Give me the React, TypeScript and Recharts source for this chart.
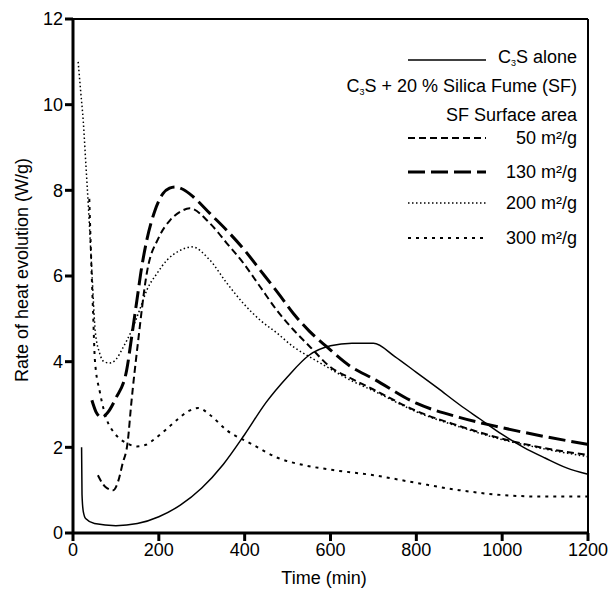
import React from 'react';
import { LineChart, Line, XAxis, YAxis, ReferenceLine } from 'recharts';

// time (min) / rate of heat evolution (W/g)
const c3sTime = [20, 21, 24, 30, 50, 100, 150, 200, 250, 300, 350, 400, 450, 500, 550, 600, 650, 700, 750, 800, 850, 900, 950, 1000, 1050, 1100, 1150, 1200];
const c3sRate = [2.0, 0.9, 0.5, 0.33, 0.22, 0.17, 0.22, 0.38, 0.65, 1.05, 1.6, 2.3, 3.05, 3.65, 4.15, 4.37, 4.43, 4.43, 4.12, 3.75, 3.38, 3.0, 2.65, 2.3, 2.0, 1.75, 1.52, 1.37];

const sf50Time = [58, 75, 94, 105, 115, 128, 135, 152, 172, 200, 226, 250, 272, 319, 358, 397, 436, 475, 513, 552, 599, 650, 700, 800, 900, 1000, 1100, 1200];
const sf50Rate = [1.35, 1.08, 1.0, 1.2, 1.6, 2.17, 2.94, 4.5, 6.07, 6.9, 7.3, 7.5, 7.58, 7.23, 6.77, 6.3, 5.75, 5.2, 4.75, 4.35, 3.88, 3.6, 3.35, 2.85, 2.5, 2.2, 1.98, 1.82];

const sf130Time = [44, 55, 67, 80, 100, 125, 137, 149, 160, 172, 190, 210, 225, 238, 257, 280, 320, 358, 400, 436, 478, 513, 550, 591, 645, 700, 800, 900, 995, 1100, 1200];
const sf130Rate = [3.1, 2.8, 2.7, 2.8, 3.15, 3.8, 4.6, 5.44, 6.2, 6.84, 7.5, 7.93, 8.05, 8.08, 8.02, 7.85, 7.45, 7.07, 6.6, 6.14, 5.6, 5.13, 4.72, 4.35, 3.9, 3.6, 3.03, 2.7, 2.47, 2.25, 2.07];

const sf200Time = [12, 18, 24, 30, 36, 44, 52, 62, 72, 86, 100, 115, 137, 155, 172, 195, 219, 250, 277, 319, 358, 397, 436, 475, 513, 552, 591, 650, 700, 800, 900, 1000, 1100, 1200];
const sf200Rate = [11.0, 10.3, 9.6, 8.6, 7.6, 6.1, 4.7, 4.2, 4.0, 3.97, 4.05, 4.3, 4.74, 5.2, 5.67, 6.05, 6.37, 6.6, 6.68, 6.37, 5.84, 5.36, 4.97, 4.67, 4.35, 4.11, 3.88, 3.55, 3.32, 2.83, 2.48, 2.18, 1.96, 1.78];

const sf300Time = [38, 42, 47, 51, 63, 79, 95, 109, 125, 149, 170, 187, 215, 242, 270, 292, 320, 358, 412, 478, 540, 606, 700, 800, 900, 995, 1100, 1200];
const sf300Rate = [7.8, 6.5, 5.1, 4.04, 3.27, 2.64, 2.35, 2.2, 2.1, 2.02, 2.06, 2.17, 2.4, 2.64, 2.85, 2.92, 2.75, 2.4, 2.1, 1.75, 1.58, 1.47, 1.35, 1.17, 1.0, 0.89, 0.85, 0.85];

const xTicks = [0, 200, 400, 600, 800, 1000, 1200];
const yTicks = [0, 2, 4, 6, 8, 10, 12];

const toRows = (t: number[], r: number[]) => t.map((time, i) => ({ time, rate: r[i] }));

const FONT = '"Liberation Sans", Arial, sans-serif';

const series = [
  { key: 'c3s', data: toRows(c3sTime, c3sRate), dash: undefined, width: 1.5, label: 'C3S alone' },
  { key: 'sf50', data: toRows(sf50Time, sf50Rate), dash: '7 4', width: 2, label: '50 m²/g' },
  { key: 'sf130', data: toRows(sf130Time, sf130Rate), dash: '17 6', width: 3, label: '130 m²/g' },
  { key: 'sf200', data: toRows(sf200Time, sf200Rate), dash: '1.5 2.5', width: 1.5, label: '200 m²/g' },
  { key: 'sf300', data: toRows(sf300Time, sf300Rate), dash: '3 5', width: 2, label: '300 m²/g' },
];

const Sample: React.FC<{ dash?: string; width: number }> = ({ dash, width }) => (
  <svg width={78} height={10} style={{ position: 'absolute', left: 408, top: -5 }}>
    <line x1={0} y1={5} x2={78} y2={5} stroke="#000" strokeWidth={width} strokeDasharray={dash} />
  </svg>
);

const C3S = () => (
  <>
    C<sub style={{ fontSize: 9, verticalAlign: -3 }}>3</sub>S
  </>
);

const YTitle = () => (
  <text x={22} y={270} transform="rotate(-90 22 270)" textAnchor="middle" dominantBaseline="central"
    fontFamily={FONT} fontSize={18} fill="#000">
    Rate of heat evolution (W/g)
  </text>
);

const XTitle = () => (
  <text x={324} y={578} textAnchor="middle" dominantBaseline="central" fontFamily={FONT} fontSize={18} fill="#000">
    Time (min)
  </text>
);

export default function App() {
  // legend row centres (px from top)
  const rowY = [60, 89, 115, 138, 172, 203, 238];
  const textStyle: React.CSSProperties = {
    position: 'absolute', right: 38, top: 0, transform: 'translateY(-50%)',
    whiteSpace: 'nowrap', fontFamily: FONT, fontSize: 18, lineHeight: '20px', color: '#000',
  };
  return (
    <div style={{ position: 'absolute', left: 0, top: 0, width: 615, height: 590, background: '#fff' }}>
      <LineChart width={615} height={590} margin={{ top: 19, right: 27, left: 0, bottom: 0 }}>
        <XAxis dataKey="time" type="number" domain={[0, 1200]} ticks={xTicks} allowDuplicatedCategory={false}
          stroke="#000" strokeWidth={3} tickSize={8} height={57}
          tick={{ fill: '#000', fontSize: 18, fontFamily: FONT }} label={<XTitle />} />
        <YAxis type="number" domain={[0, 12]} ticks={yTicks} width={73}
          stroke="#000" strokeWidth={3} tickSize={8}
          tick={{ fill: '#000', fontSize: 18, fontFamily: FONT }} label={<YTitle />} />
        <ReferenceLine y={12} stroke="#000" strokeWidth={2} />
        <ReferenceLine x={1200} stroke="#000" strokeWidth={2} />
        {series.map(s => (
          <Line key={s.key} data={s.data} dataKey="rate" type="monotone" stroke="#000"
            strokeWidth={s.width} strokeDasharray={s.dash} dot={false} activeDot={false}
            isAnimationActive={false} />
        ))}
      </LineChart>
      <div style={{ position: 'absolute', left: 0, top: 0, width: 615, height: 590, pointerEvents: 'none' }}>
        <div style={{ position: 'absolute', left: 0, top: rowY[0], width: 615 }}>
          <Sample width={1.5} />
          <span style={textStyle}><C3S /> alone</span>
        </div>
        <div style={{ position: 'absolute', left: 0, top: rowY[1], width: 615 }}>
          <span style={textStyle}><C3S /> + 20 % Silica Fume (SF)</span>
        </div>
        <div style={{ position: 'absolute', left: 0, top: rowY[2], width: 615 }}>
          <span style={textStyle}>SF Surface area</span>
        </div>
        {series.slice(1).map((s, i) => (
          <div key={s.key} style={{ position: 'absolute', left: 0, top: rowY[3 + i], width: 615 }}>
            <Sample dash={s.dash} width={s.width} />
            <span style={textStyle}>{s.label}</span>
          </div>
        ))}
      </div>
    </div>
  );
}
